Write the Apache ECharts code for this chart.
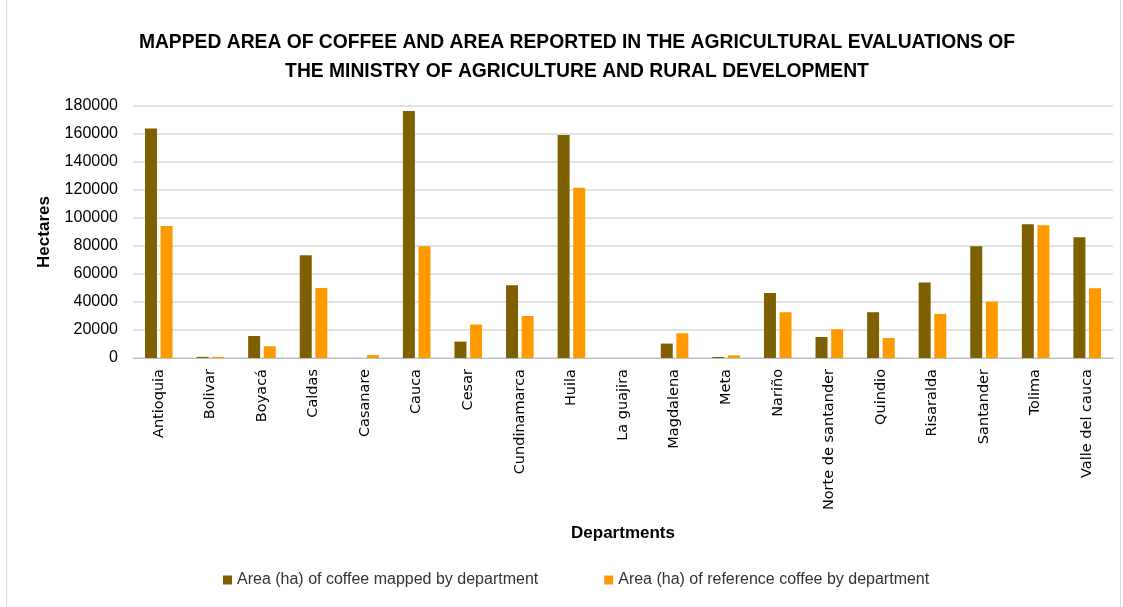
<!DOCTYPE html>
<html><head><meta charset="utf-8">
<script src="https://cdn.jsdelivr.net/npm/echarts@6/dist/echarts.min.js"></script>
<style>
html,body{margin:0;padding:0;background:#fff;}
#frame{position:absolute;left:6px;top:-2px;width:1115px;height:610px;border:1px solid #d9d9d9;box-sizing:border-box;}
#c{width:1123px;height:607px;}
</style></head>
<body><div id="frame"></div><div id="c"></div>
<script>
const categories = ["Antioquia","Bolivar","Boyacá","Caldas","Casanare","Cauca","Cesar","Cundinamarca","Huila","La guajira","Magdalena","Meta","Nariño","Norte de santander","Quindio","Risaralda","Santander","Tolima","Valle del cauca"];
const mapped = [164000, 800, 15700, 73400, 0, 176400, 11700, 52000, 159300, 0, 10300, 700, 46500, 15000, 32700, 53900, 79900, 95600, 86300];
const reference = [94300, 800, 8400, 50000, 2100, 79900, 23900, 30000, 121600, 0, 17700, 1900, 32700, 20500, 14300, 31500, 40300, 94900, 49800];
const seriesNames = ["Area (ha) of coffee mapped by department", "Area (ha) of reference coffee by department"];
const titleText = "MAPPED AREA OF COFFEE AND AREA REPORTED IN THE AGRICULTURAL EVALUATIONS OF\nTHE MINISTRY OF AGRICULTURE AND RURAL DEVELOPMENT";

const chart = echarts.init(document.getElementById('c'));
chart.setOption({
  animation:false,
  title:{text:titleText,left:572,textAlign:'center',top:23,
    textStyle:{fontFamily:'Liberation Sans',fontWeight:'bold',fontSize:19.3,color:'#000',lineHeight:29}},
  legend:{bottom:14,left:218,itemWidth:9,itemHeight:9,itemGap:66,icon:'rect',
    textStyle:{fontFamily:'Liberation Sans',fontSize:16,color:'#333'}},
  grid:{left:133,right:10,top:106,bottom:249,containLabel:false},
  xAxis:{type:'category',data:categories,name:'Departments',nameLocation:'middle',nameGap:167,
    nameTextStyle:{fontFamily:'Liberation Sans',fontWeight:'bold',fontSize:17,color:'#000'},
    axisLine:{lineStyle:{color:'#bfbfbf',width:1}},axisTick:{show:false},
    axisLabel:{rotate:90,interval:0,fontFamily:'DejaVu Sans',fontSize:14.5,color:'#000',margin:11}},
  yAxis:{type:'value',min:0,max:180000,interval:20000,name:'Hectares',nameLocation:'middle',nameGap:80,
    nameTextStyle:{fontFamily:'Liberation Sans',fontWeight:'bold',fontSize:17,color:'#000'},
    axisLine:{show:false},axisTick:{show:false},
    axisLabel:{fontFamily:'Liberation Sans',fontSize:16,color:'#000',margin:15,formatter:v=>String(v)},
    splitLine:{lineStyle:{color:'#d9d9d9',width:1.5}}},
  series:[
    {name:seriesNames[0],type:'bar',data:mapped,barWidth:12,barGap:'30%',itemStyle:{color:'#7F6000'}},
    {name:seriesNames[1],type:'bar',data:reference,barWidth:12,itemStyle:{color:'#FF9900'}}
  ]
});
</script></body></html>
